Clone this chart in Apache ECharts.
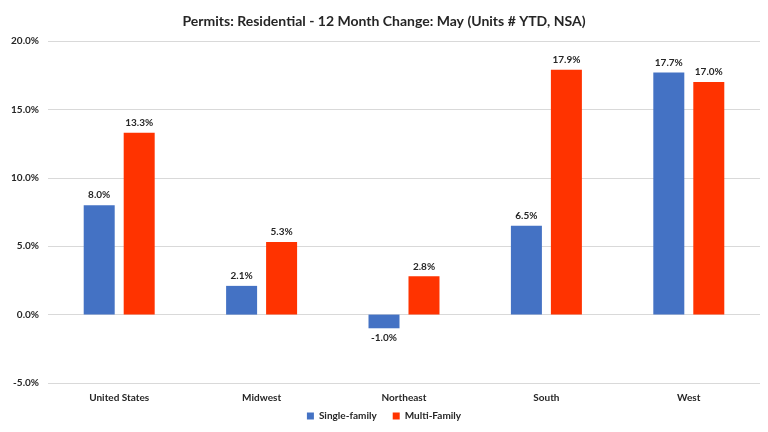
<!DOCTYPE html>
<html><head><meta charset="utf-8">
<script src="https://cdn.jsdelivr.net/npm/echarts@6/dist/echarts.min.js"></script>
<style>html,body{margin:0;padding:0;background:#fff}#c{width:768px;height:432px}</style>
</head><body><div id="c"></div>
<script>
const categories = ["United States", "Midwest", "Northeast", "South", "West"];
const singleFamily = [8.0, 2.1, -1.0, 6.5, 17.7];
const multiFamily = [13.3, 5.3, 2.8, 17.9, 17.0];
const seriesNames = ["Single-family", "Multi-Family"];
const titleText = "Permits: Residential - 12 Month Change: May (Units # YTD, NSA)";

const font = "Lato, 'Open Sans', sans-serif";
const chart = echarts.init(document.getElementById('c'));
const lbl = {show: true, position: 'top', formatter: p => p.value.toFixed(1) + '%', fontFamily: font, fontWeight: 'bold', fontSize: 10, color: '#262626', distance: 5};
chart.setOption({
  animation: false,
  title: {text: titleText, left: 'center', top: 9, textStyle: {fontFamily: font, fontWeight: 'bold', fontSize: 14, color: '#262626'}},
  legend: {bottom: 6, left: 'center', itemWidth: 7, itemHeight: 7, itemGap: 16, icon: 'rect', textStyle: {fontFamily: font, fontWeight: 'bold', fontSize: 10, color: '#262626'}},
  grid: {left: 48, right: 8, top: 41, bottom: 49},
  xAxis: {type: 'category', data: categories, axisLine: {show: false}, axisTick: {show: false},
    axisLabel: {fontFamily: font, fontWeight: 'bold', fontSize: 10, color: '#262626', margin: 10}},
  yAxis: {type: 'value', min: -5, max: 20, interval: 5,
    axisLabel: {formatter: v => v.toFixed(1) + '%', fontFamily: font, fontWeight: 'bold', fontSize: 10, color: '#262626', margin: 9},
    splitLine: {lineStyle: {color: '#d9d9d9', width: 1}}, axisLine: {show: false}},
  series: [
    {name: seriesNames[0], type: 'bar', data: singleFamily, barWidth: 31, barGap: '29%', itemStyle: {color: '#4472C4'},
      label: Object.assign({}, lbl, {position: 'top'}),
      labelLayout: null},
    {name: seriesNames[1], type: 'bar', data: multiFamily, barWidth: 31, itemStyle: {color: '#FF3300'}, label: lbl}
  ]
});
// negative values: label below the bar
const opt = chart.getOption();
opt.series[0].data = singleFamily.map(v => v < 0 ? {value: v, label: {position: 'bottom'}} : v);
chart.setOption({series: [{data: opt.series[0].data}]});
</script></body></html>
